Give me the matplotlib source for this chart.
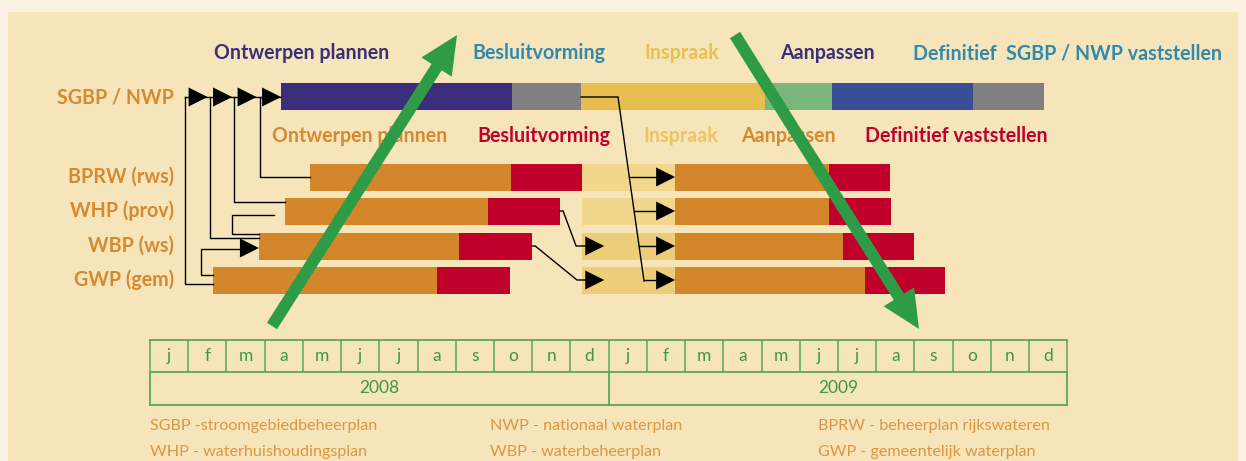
import matplotlib
matplotlib.use('Agg')
import matplotlib.pyplot as plt
from matplotlib.patches import Rectangle, Polygon, FancyArrow

# ---------------- data ----------------
months = ['j', 'f', 'm', 'a', 'm', 'j', 'j', 'a', 's', 'o', 'n', 'd']
years = ['2008', '2009']

top_phases = ['Ontwerpen plannen', 'Besluitvorming', 'Inspraak', 'Aanpassen',
              'Definitief  SGBP / NWP vaststellen']
sub_phases = ['Ontwerpen plannen', 'Besluitvorming', 'Inspraak', 'Aanpassen',
              'Definitief vaststellen']

sgbp_label = 'SGBP / NWP'
# phase boundaries of the SGBP / NWP bar, in months since Jan 2008
sgbp_bounds = [3.43, 9.48, 11.28, 16.10, 17.85, 21.54, 23.38]

plans = ['BPRW (rws)', 'WHP (prov)', 'WBP (ws)', 'GWP (gem)']
plan_start = [4.19, 3.53, 2.85, 1.65]
plan_design_end = [9.45, 8.85, 8.09, 7.51]
plan_decision_end = [11.31, 10.73, 10.00, 9.42]
inspraak_start = [11.31, 11.31, 11.31, 11.31]
inspraak_end = [13.74, 13.74, 13.74, 13.74]
plan_adapt_end = [17.77, 17.77, 18.12, 18.72]
plan_final_end = [19.37, 19.40, 20.00, 20.81]

abbrev_col1 = ['SGBP -stroomgebiedbeheerplan', 'WHP - waterhuishoudingsplan']
abbrev_col2 = ['NWP - nationaal waterplan', 'WBP - waterbeheerplan']
abbrev_col3 = ['BPRW - beheerplan rijkswateren', 'GWP - gemeentelijk waterplan']

# ---------------- styles ----------------
W, H = 1246, 461
X0, MW = 150.0, 38.22   # pixel of Jan 2008, pixels per month
OUTER = '#faf1e3'
PANEL = '#f6e5ba'
PURPLE = '#3b2e7b'
GRAY = '#808080'
YELLOW = '#e6bd4e'
LGREEN = '#7bb77b'
BLUE = '#3a4e97'
ORANGE = '#d4872a'
RED = '#c0002a'
LYELLOW = ['#f1d68c', '#f1d68c', '#eecd79', '#eecd79']
TEAL = '#2f8aae'
TXT_ORANGE = '#d6892e'
GREEN = '#2e9c47'
TABLE_GREEN = '#5aa65a'
TEXT_GREEN = '#3a9848'
FOOT = '#dd9640'

def px2t(px):
    return (px - X0) / MW

fig = plt.figure(figsize=(W / 100, H / 100), dpi=100)
fig.patch.set_facecolor(OUTER)

# background axes (pixel coords)
axb = fig.add_axes([0, 0, 1, 1])
axb.set_xlim(0, W); axb.set_ylim(H, 0); axb.axis('off')
axb.add_patch(Rectangle((8, 12), 1230, 460, facecolor=PANEL, edgecolor='none'))

# data axes: x in months since Jan 2008, y in pixel rows
ax = fig.add_axes([0, 0, 1, 1])
ax.set_xlim(px2t(0), px2t(W)); ax.set_ylim(H, 0); ax.axis('off')
ax.patch.set_alpha(0)

# overlay axes (pixel coords) for texts and big arrows
axt = fig.add_axes([0, 0, 1, 1])
axt.set_xlim(0, W); axt.set_ylim(H, 0); axt.axis('off')
axt.patch.set_alpha(0)

BH = 27
y_sgbp = 97
row_y = [177, 211, 246, 280]

# SGBP / NWP bar
sgbp_colors = [PURPLE, GRAY, YELLOW, LGREEN, BLUE, GRAY]
for i, c in enumerate(sgbp_colors):
    ax.barh(y_sgbp, sgbp_bounds[i + 1] - sgbp_bounds[i], left=sgbp_bounds[i],
            height=BH, color=c, linewidth=0, zorder=2)

# plan bars
for i in range(len(plans)):
    y = row_y[i]
    segs = [(plan_start[i], plan_design_end[i], ORANGE),
            (plan_design_end[i], plan_decision_end[i], RED),
            (inspraak_start[i], inspraak_end[i], LYELLOW[i]),
            (inspraak_end[i], plan_adapt_end[i], ORANGE),
            (plan_adapt_end[i], plan_final_end[i], RED)]
    for a, b, c in segs:
        ax.barh(y, b - a, left=a, height=BH, color=c, linewidth=0, zorder=2)

LW = 1.0
def line(xs_px, ys, **kw):
    ax.plot([px2t(x) for x in xs_px], ys, color='black', lw=LW,
            solid_joinstyle='miter', zorder=3, **kw)

def tri(tip_t, y, w=19, h=19):
    tx = tip_t
    bx = tx - w / MW
    ax.add_patch(Polygon([(bx, y - h / 2), (bx, y + h / 2), (tx, y)],
                         closed=True, facecolor='black', edgecolor='none', zorder=4))

# arrows from SGBP label to bar
line([185, sgbp_bounds[0] * MW + X0], [y_sgbp, y_sgbp])
for k in range(4):
    tip = sgbp_bounds[0] - (3 - k) * 24.5 / MW
    tri(tip, y_sgbp)

# vertical connectors to the plan bars
vx = [260, 234, 210, 185]
vy = [row_y[0], 202, 238, 284]
for i in range(4):
    line([vx[i], vx[i], plan_start[i] * MW + X0], [y_sgbp, vy[i], vy[i]])

# small bracket between WHP and WBP
line([274, 232, 232, plan_start[2] * MW + X0], [215, 215, 234, 234])
# bracket from GWP to WBP with arrow
line([plan_start[3] * MW + X0, 201, 201, plan_start[2] * MW + X0 - 10],
     [275, 275, 249, 249])
tri(plan_start[2], 248)

# from WHP / WBP decision end to Inspraak row 3 / 4
for src, dst in [(1, 2), (2, 3)]:
    xe = plan_decision_end[src] * MW + X0
    y1 = row_y[src]
    y2 = row_y[dst]
    line([xe, xe + 3, xe + 16 if src == 1 else 577, 590],
         [y1, y1, y2, y2])
    tri(inspraak_start[dst] + 22 / MW, y2)

# from SGBP gray end down to all Aanpassen bars
xs = sgbp_bounds[2] * MW + X0
line([xs, 618, 644], [y_sgbp, y_sgbp, 281])
for i in range(4):
    y = row_y[i]
    xl = 618 + (644 - 618) * (y - y_sgbp) / (281 - y_sgbp)
    line([xl, 660], [y, y])
    tri(inspraak_end[i], y)

# ---------------- texts ----------------
FB = dict(family='Lato', weight='bold', fontsize=14.1)
top_x = [214, 472, 644, 780, 913]
top_c = [PURPLE, TEAL, '#e8bf52', PURPLE, TEAL]
for s, x, c in zip(top_phases, top_x, top_c):
    axt.text(x, 53, s, color=c, ha='left', va='center', **FB)
sub_x = [272, 477, 643, 741, 865]
sub_c = [TXT_ORANGE, RED, '#ecc462', TXT_ORANGE, RED]
for s, x, c in zip(sub_phases, sub_x, sub_c):
    axt.text(x, 136, s, color=c, ha='left', va='center', **FB)

axt.text(174, y_sgbp, sgbp_label, color=TXT_ORANGE, ha='right', va='center', **FB)
for s, y in zip(plans, row_y):
    axt.text(174, y, s, color=TXT_ORANGE, ha='right', va='center', **FB)

# ---------------- month table ----------------
ty0, ty1, ty2 = 340, 372, 405
n = len(years) * len(months)
ax.plot([0, n], [ty0, ty0], color=TABLE_GREEN, lw=1.3, zorder=3)
ax.plot([0, n], [ty1, ty1], color=TABLE_GREEN, lw=1.3, zorder=3)
ax.plot([0, n], [ty2, ty2], color=TABLE_GREEN, lw=1.3, zorder=3)
for m in range(n + 1):
    ax.plot([m, m], [ty0, ty1], color=TABLE_GREEN, lw=1.1, zorder=3)
for m in range(0, n + 1, 12):
    ax.plot([m, m], [ty1, ty2], color=TABLE_GREEN, lw=1.3, zorder=3)
for yi, yr in enumerate(years):
    for mi, ml in enumerate(months):
        ax.text(yi * 12 + mi + 0.5, 356, ml, color=TEXT_GREEN, ha='center',
                va='center', family='Lato', fontsize=12.5)
    ax.text(yi * 12 + 6, 388, yr, color=TEXT_GREEN, ha='center', va='center',
            family='Lato', fontsize=12.5)

# ---------------- footnotes ----------------
for col, x in zip([abbrev_col1, abbrev_col2, abbrev_col3], [150, 490, 818]):
    for s, y in zip(col, [426, 452]):
        axt.text(x, y, s, color=FOOT, ha='left', va='center', family='Lato',
                 weight='normal', fontsize=11.6)

# ---------------- big green arrows ----------------
for (x1, y1), (x2, y2) in [((272, 326), (457, 35)), ((735, 35), (919, 329))]:
    axt.add_patch(FancyArrow(x1, y1, x2 - x1, y2 - y1, width=12, head_width=36,
                             head_length=38, length_includes_head=True,
                             color=GREEN, linewidth=0, zorder=10))

fig.savefig('out.png', dpi=100, facecolor=OUTER)
